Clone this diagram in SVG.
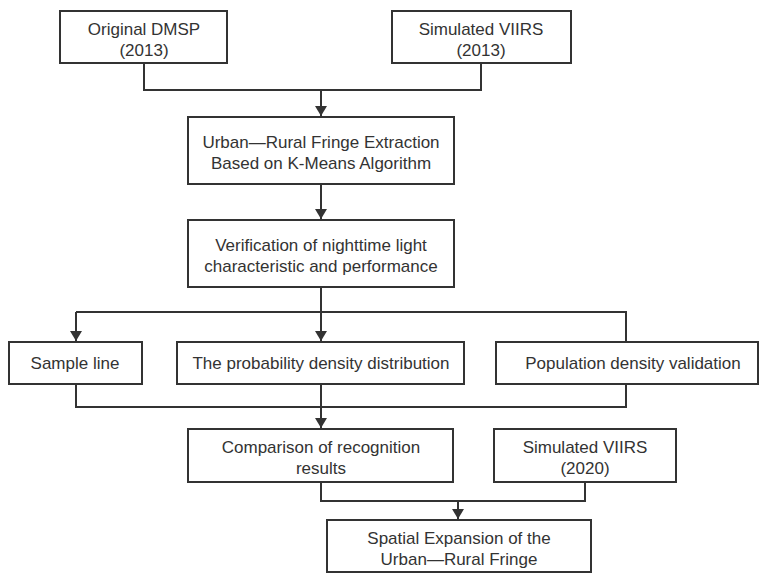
<svg xmlns="http://www.w3.org/2000/svg" width="764" height="588" viewBox="0 0 764 588">
<defs>
<style>
.box{fill:#fff;stroke:#333;stroke-width:2}
.t{font-family:"Liberation Sans",Arial,sans-serif;font-size:17px;fill:#333;text-anchor:middle}
.c{fill:none;stroke:#333;stroke-width:2}
</style>
<marker id="ah" markerWidth="10" markerHeight="12" refX="10" refY="6" orient="auto" markerUnits="userSpaceOnUse">
<path d="M0,0 L10,6 L0,12 Z" fill="#333"/>
</marker>
</defs>
<rect width="764" height="588" fill="#fff"/>
<g id="connectors">
<path class="c" d="M144,63 V90 H481 V63"/>
<path class="c" d="M321,90 V116" marker-end="url(#ah)"/>
<path class="c" d="M321,184 V219" marker-end="url(#ah)"/>
<path class="c" d="M321,287 V341" marker-end="url(#ah)"/>
<path class="c" d="M76,312 H626 V342"/>
<path class="c" d="M76,312 V341" marker-end="url(#ah)"/>
<path class="c" d="M76,384 V407 H626 V384"/>
<path class="c" d="M321,384 V428" marker-end="url(#ah)"/>
<path class="c" d="M321,482 V501 H585 V482"/>
<path class="c" d="M458,501 V519" marker-end="url(#ah)"/>
</g>
<g id="n1"><rect class="box" x="60" y="11" width="167" height="52"/><text class="t" x="144" y="35">Original DMSP</text><text class="t" x="144" y="56">(2013)</text></g>
<g id="n2"><rect class="box" x="392" y="11" width="179" height="52"/><text class="t" x="481" y="35">Simulated VIIRS</text><text class="t" x="481" y="56">(2013)</text></g>
<g id="n3"><rect class="box" x="188" y="117" width="266" height="67"/><text class="t" x="321" y="148">Urban—Rural Fringe Extraction</text><text class="t" x="321" y="169">Based on K-Means Algorithm</text></g>
<g id="n4"><rect class="box" x="188" y="220" width="266" height="67"/><text class="t" x="321" y="251">Verification of nighttime light</text><text class="t" x="321" y="272">characteristic and performance</text></g>
<g id="n5"><rect class="box" x="9" y="342" width="133" height="42"/><text class="t" x="75" y="369">Sample line</text></g>
<g id="n6"><rect class="box" x="177" y="342" width="287" height="42"/><text class="t" x="321" y="369">The probability density distribution</text></g>
<g id="n7"><rect class="box" x="496" y="342" width="262" height="42"/><text class="t" x="633" y="369">Population density validation</text></g>
<g id="n8"><rect class="box" x="188" y="429" width="265" height="53"/><text class="t" x="321" y="453">Comparison of recognition</text><text class="t" x="321" y="474">results</text></g>
<g id="n9"><rect class="box" x="494" y="429" width="182" height="53"/><text class="t" x="585" y="453">Simulated VIIRS</text><text class="t" x="585" y="474">(2020)</text></g>
<g id="n10"><rect class="box" x="327" y="520" width="264" height="52"/><text class="t" x="459" y="544">Spatial Expansion of the</text><text class="t" x="459" y="565">Urban—Rural Fringe</text></g>
</svg>
